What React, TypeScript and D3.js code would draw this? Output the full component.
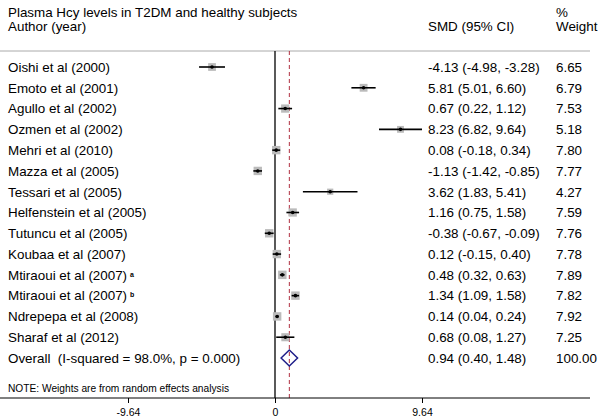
import { useEffect, useRef } from "react";
import { axisBottom, scaleLinear, scaleSqrt, select } from "d3";

const authors = [
  "Oishi et al (2000)",
  "Emoto et al (2001)",
  "Agullo et al (2002)",
  "Ozmen et al (2002)",
  "Mehri et al (2010)",
  "Mazza et al (2005)",
  "Tessari et al (2005)",
  "Helfenstein et al (2005)",
  "Tutuncu et al (2005)",
  "Koubaa et al (2007)",
  "Mtiraoui et al (2007)",
  "Mtiraoui et al (2007)",
  "Ndrepepa et al (2008)",
  "Sharaf et al (2012)",
];
const superscripts = ["", "", "", "", "", "", "", "", "", "", "a", "b", "", ""];
const smd = [-4.13, 5.81, 0.67, 8.23, 0.08, -1.13, 3.62, 1.16, -0.38, 0.12, 0.48, 1.34, 0.14, 0.68];
const lower = [-4.98, 5.01, 0.22, 6.82, -0.18, -1.42, 1.83, 0.75, -0.67, -0.15, 0.32, 1.09, 0.04, 0.08];
const upper = [-3.28, 6.6, 1.12, 9.64, 0.34, -0.85, 5.41, 1.58, -0.09, 0.4, 0.63, 1.58, 0.24, 1.27];
const weights = [6.65, 6.79, 7.53, 5.18, 7.8, 7.77, 4.27, 7.59, 7.76, 7.78, 7.89, 7.82, 7.92, 7.25];
const overall = { smd: 0.94, lower: 0.4, upper: 1.48, weight: 100.0 };
const overallLabel = "Overall  (I-squared = 98.0%, p = 0.000)";
const xTicks = [-9.64, 0, 9.64];

const fmt = (v: number) => v.toFixed(2);

function XAxis({ scale, y }: { scale: any; y: number }) {
  const ref = useRef<SVGGElement>(null);
  useEffect(() => {
    if (ref.current) {
      const g = select(ref.current);
      g.call(
        axisBottom(scale)
          .tickValues(xTicks)
          .tickSize(5)
          .tickSizeOuter(0)
          .tickFormat((d: any) => (d === 0 ? "0" : fmt(d)))
      );
      g.select(".domain").remove();
      g.selectAll("text")
        .attr("font-size", 10.5)
        .attr("font-family", "Liberation Sans, Arial, sans-serif")
        .attr("dy", "0")
        .attr("y", 18);
    }
  }, [scale]);
  return <g ref={ref} transform={`translate(0, ${y})`} />;
}

export default function App() {
  const W = 600;
  const H = 418;
  const x = scaleLinear().domain([-9.64, 9.64]).range([128, 422]);
  const y = scaleLinear().domain([0, 14]).range([67, 358]);
  const box = scaleSqrt().domain([0, 8]).range([0, 8.5]);
  const font = "Liberation Sans, Arial, sans-serif";
  const fs = 13.4;
  const topLine = 51;
  const axisY = 398;
  const colEst = 428;
  const colW = 556;

  return (
    <svg width={W} height={H} style={{ position: "absolute", left: 0, top: 0, background: "#fff" }} fontFamily={font}>
      <rect width={W} height={H} fill="#fff" />
      <text x={8} y={17} fontSize={fs}>Plasma Hcy levels in T2DM and healthy subjects</text>
      <text x={8} y={31} fontSize={fs}>Author (year)</text>
      <text x={colEst} y={31} fontSize={fs}>SMD (95% CI)</text>
      <text x={colW} y={17} fontSize={fs}>%</text>
      <text x={colW} y={31} fontSize={fs}>Weight</text>

      <line x1={0} x2={590} y1={topLine} y2={topLine} stroke="#aaa" strokeWidth={1} />
      <line x1={x(0)} x2={x(0)} y1={topLine} y2={axisY} stroke="#000" strokeWidth={1.3} />
      <line x1={x(overall.smd)} x2={x(overall.smd)} y1={topLine} y2={axisY} stroke="#b03040" strokeWidth={1} strokeDasharray="4,3" />

      {authors.map((a, i) => {
        const cy = y(i);
        const s = box(weights[i]);
        return (
          <g key={`row-${i}`}>
            <text x={8} y={cy + 4.8} fontSize={fs}>
              {a}
              {superscripts[i] && (
                <tspan fontSize={7} fontWeight="bold" dx={3} dy={-3}>{superscripts[i]}</tspan>
              )}
            </text>
            <rect x={x(smd[i]) - s / 2} y={cy - s / 2} width={s} height={s} fill="#bbb" />
            <line x1={x(lower[i])} x2={x(upper[i])} y1={cy} y2={cy} stroke="#000" strokeWidth={1.6} />
            <circle cx={x(smd[i])} cy={cy} r={1.8} fill="#000" />
            <text x={colEst} y={cy + 4.8} fontSize={fs}>
              {`${fmt(smd[i])} (${fmt(lower[i])}, ${fmt(upper[i])})`}
            </text>
            <text x={colW} y={cy + 4.8} fontSize={fs}>{fmt(weights[i])}</text>
          </g>
        );
      })}

      <g>
        <text x={8} y={y(14) + 4.8} fontSize={fs} style={{ whiteSpace: "pre" }}>{overallLabel}</text>
        <path
          d={`M${x(overall.lower)},${y(14)} L${x(overall.smd)},${y(14) - 8} L${x(overall.upper)},${y(14)} L${x(overall.smd)},${y(14) + 8} Z`}
          fill="none"
          stroke="#1f1f8a"
          strokeWidth={1.5}
        />
        <text x={colEst} y={y(14) + 4.8} fontSize={fs}>
          {`${fmt(overall.smd)} (${fmt(overall.lower)}, ${fmt(overall.upper)})`}
        </text>
        <text x={colW} y={y(14) + 4.8} fontSize={fs}>{fmt(overall.weight)}</text>
      </g>

      <text x={8} y={392} fontSize={10.2}>NOTE: Weights are from random effects analysis</text>
      <line x1={0} x2={590} y1={axisY} y2={axisY} stroke="#000" strokeWidth={1} />
      <XAxis scale={x} y={axisY} />
    </svg>
  );
}
